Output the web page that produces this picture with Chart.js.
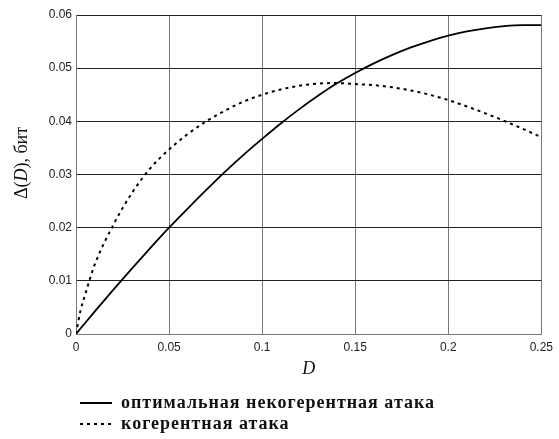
<!DOCTYPE html>
<html>
<head>
<meta charset="utf-8">
<script src="https://cdn.jsdelivr.net/npm/chart.js@4"></script>
<style>
    body { margin: 0; background: #ffffff; }
    #wrap { position: relative; width: 559px; height: 439px; }
    #legend { position: absolute; left: 80px; top: 392px; font-family: 'Liberation Serif', serif; font-size: 18px; font-weight: bold; color: #111; letter-spacing: 1px; }
    .row { height: 21px; display: flex; align-items: center; }
    .row svg { margin-right: 9px; }
</style>
</head>
<body>
<div id="wrap">
    <canvas id="deltaChart" width="559" height="439"></canvas>
    <div id="legend"></div>
</div>
<script>
// optimal incoherent attack
const solidD = [0, 0.01, 0.02, 0.03, 0.04, 0.05, 0.06, 0.07, 0.08, 0.09, 0.1, 0.11, 0.12, 0.13,
    0.14, 0.15, 0.16, 0.17, 0.18, 0.19, 0.2, 0.21, 0.22, 0.23, 0.24, 0.25];
const solidDelta = [0, 0.0042, 0.0083, 0.0123, 0.0162, 0.02, 0.0236, 0.0271, 0.0305, 0.0337, 0.0367,
    0.0396, 0.0423, 0.0448, 0.0471, 0.0491, 0.0509, 0.0525, 0.0539, 0.0551, 0.0561, 0.0569, 0.0575,
    0.0579, 0.0581, 0.0581];

// coherent attack
const dashedD = [0, 0.0025, 0.005, 0.01, 0.02, 0.03, 0.04, 0.05, 0.06, 0.07, 0.08, 0.09, 0.1, 0.11,
    0.12, 0.13, 0.14, 0.15, 0.16, 0.17, 0.18, 0.19, 0.2, 0.21, 0.22, 0.23, 0.24, 0.25];
const dashedDelta = [0, 0.0045, 0.0075, 0.013, 0.0205, 0.0265, 0.0312, 0.0347, 0.0376, 0.04,
    0.042, 0.0437, 0.045, 0.046, 0.0467, 0.0471, 0.0472, 0.047, 0.0468, 0.0464, 0.0458, 0.045,
    0.044, 0.0428, 0.0415, 0.0401, 0.0386, 0.037];

const seriesNames = ['оптимальная некогерентная атака', 'когерентная атака'];
const xTickLabels = ['0', '0.05', '0.1', '0.15', '0.2', '0.25'];
const yTickLabels = ['0', '0.01', '0.02', '0.03', '0.04', '0.05', '0.06'];
const yTitleParts = ['Δ(', 'D', '), бит'];

const toPoints = (xs, ys) => xs.map((x, i) => ({ x: x, y: ys[i] }));
const tickFont = { family: 'Liberation Sans', size: 12 };

// y axis title with an italic D, drawn rotated left of the axis
const yTitlePlugin = {
    id: 'yTitle',
    afterDraw(chart) {
        const ctx = chart.ctx;
        const fonts = ['18px "Liberation Serif"', 'italic 18px "Liberation Serif"', '18px "Liberation Serif"'];
        ctx.save();
        let total = 0;
        const widths = yTitleParts.map((t, i) => {
            ctx.font = fonts[i];
            const w = ctx.measureText(t).width;
            total += w;
            return w;
        });
        ctx.translate(22, 163);
        ctx.rotate(-Math.PI / 2);
        ctx.fillStyle = '#111111';
        ctx.textBaseline = 'middle';
        let x = -total / 2;
        yTitleParts.forEach((t, i) => {
            ctx.font = fonts[i];
            ctx.fillText(t, x, 0);
            x += widths[i];
        });
        ctx.restore();
    }
};

const chart = new Chart(document.getElementById('deltaChart').getContext('2d'), {
    type: 'line',
    data: {
        datasets: [{
            label: seriesNames[0],
            data: toPoints(solidD, solidDelta),
            borderColor: '#000000',
            borderWidth: 1.8,
            pointRadius: 0,
            cubicInterpolationMode: 'monotone'
        }, {
            label: seriesNames[1],
            data: toPoints(dashedD, dashedDelta),
            borderColor: '#000000',
            borderWidth: 2,
            borderDash: [3, 4],
            pointRadius: 0,
            cubicInterpolationMode: 'monotone'
        }]
    },
    options: {
        responsive: false,
        animation: false,
        layout: {
            padding: { left: 0, right: 16, top: 15, bottom: 57 }
        },
        plugins: {
            legend: { display: false },
            tooltip: { enabled: false }
        },
        scales: {
            x: {
                type: 'linear',
                min: 0,
                max: 0.25,
                afterFit: scale => { scale.height = 48; },
                ticks: {
                    stepSize: 0.05,
                    padding: 6,
                    color: '#222222',
                    font: tickFont,
                    callback: (value, index) => xTickLabels[index]
                },
                grid: { color: '#777777', drawTicks: false },
                border: { color: '#777777' },
                title: {
                    display: true,
                    text: 'D',
                    color: '#111111',
                    font: { family: 'Liberation Serif', size: 18, style: 'italic' },
                    padding: { top: 0, bottom: 2 }
                }
            },
            y: {
                min: 0,
                max: 0.06,
                afterFit: scale => { scale.width = 76; },
                ticks: {
                    stepSize: 0.01,
                    padding: 4,
                    color: '#222222',
                    font: tickFont,
                    callback: (value, index) => yTickLabels[index]
                },
                grid: { color: '#222222', drawTicks: false },
                border: { color: '#777777' }
            }
        }
    },
    plugins: [yTitlePlugin]
});

// legend below the plot, built from the datasets
const legendDiv = document.getElementById('legend');
chart.data.datasets.forEach(ds => {
    const row = document.createElement('div');
    row.className = 'row';
    const dash = ds.borderDash ? 'stroke-dasharray="3 4"' : '';
    row.innerHTML = '<svg width="32" height="4"><line x1="0" y1="2" x2="32" y2="2" stroke="#000" stroke-width="2" ' + dash + '/></svg><span>' + ds.label + '</span>';
    legendDiv.appendChild(row);
});
</script>
</body>
</html>
